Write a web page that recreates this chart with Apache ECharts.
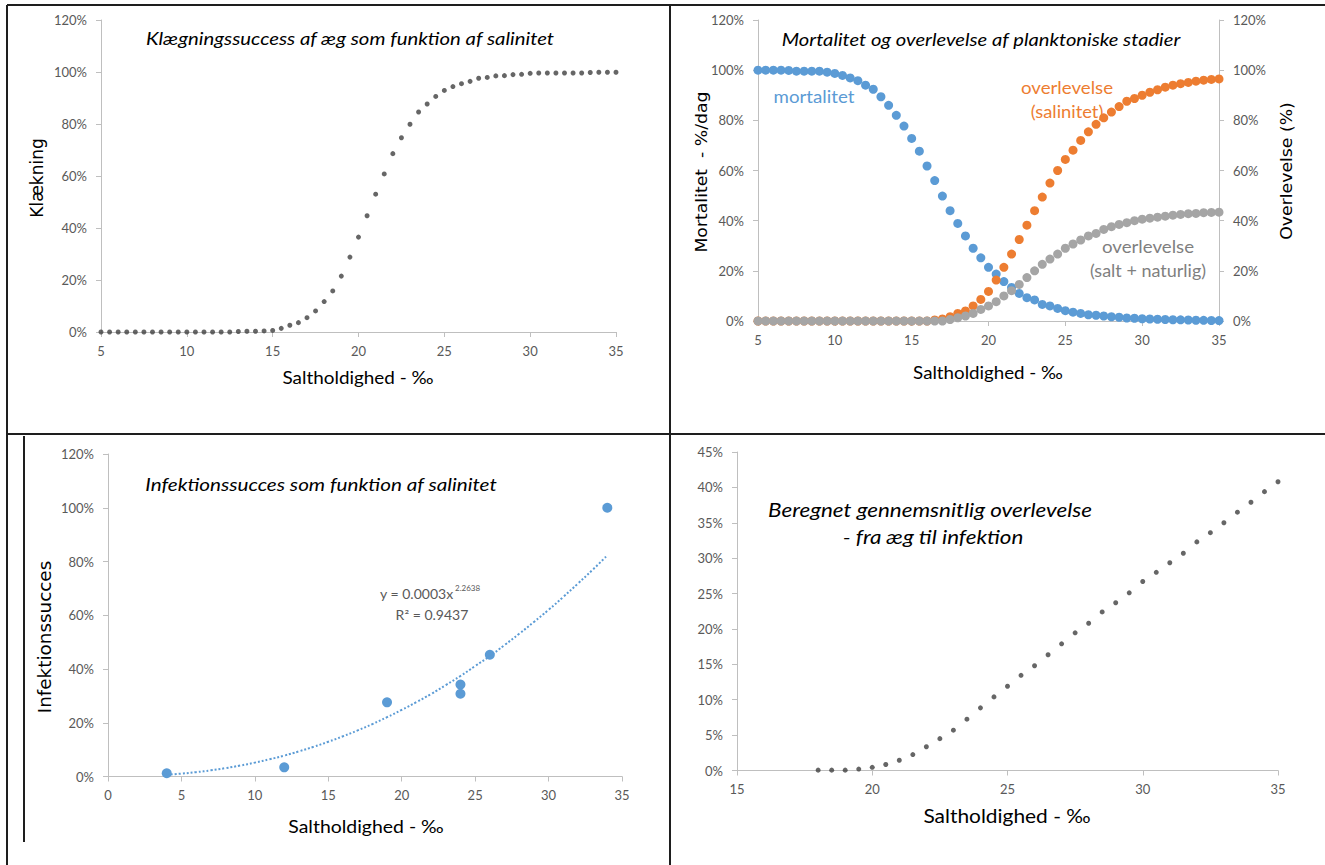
<!DOCTYPE html>
<html>
<head>
<meta charset="utf-8">
<script src="https://cdn.jsdelivr.net/npm/echarts@6/dist/echarts.min.js"></script>
<style>
html,body{margin:0;padding:0;background:#fff;}
#chart{width:1325px;height:865px;}
</style>
</head>
<body>
<div id="chart"></div>
<script>
// ---------- DATA ----------
// Panel 1: hatching success vs salinity (5..35 step 0.5)
const salinity = [5,5.5,6,6.5,7,7.5,8,8.5,9,9.5,10,10.5,11,11.5,12,12.5,13,13.5,14,14.5,15,15.5,16,16.5,17,17.5,18,18.5,19,19.5,20,20.5,21,21.5,22,22.5,23,23.5,24,24.5,25,25.5,26,26.5,27,27.5,28,28.5,29,29.5,30,30.5,31,31.5,32,32.5,33,33.5,34,34.5,35];
const hatching = [0,0,0,0,0,0,0,0,0,0,0,0,0,0,0,0,0.2,0.3,0.3,0.4,0.6,1.4,2.6,3.6,5.5,8.1,11.7,15.8,21.5,28.8,36.5,44.7,53,60.8,68.6,74.7,79.9,84.6,87.7,90.6,92.9,94.4,95.5,96.4,97.6,97.9,98.5,98.6,99.0,99.1,99.5,99.6,99.6,99.6,99.6,99.6,99.6,99.8,99.9,99.9,99.9];

// Panel 2: mortality and survival of planktonic stages
const mortality = [100,100,100,100,99.9,99.6,99.6,99.6,99.6,99.2,98.7,97.9,96.9,95.8,94,92.4,89.4,86,82,77.7,72.8,67.7,61.8,56,49.8,44,38.9,33.9,29,25.2,21.4,18.7,15.7,13.4,11,9.3,8.4,6.6,6,5,4.1,3.5,3,2.5,2.3,2,1.7,1.5,1.2,1.1,0.9,0.8,0.7,0.6,0.5,0.45,0.4,0.3,0.25,0.2,0.15];
const survivalSalinity = [0,0,0,0,0,0,0,0,0,0,0,0,0,0,0,0,0,0,0,0,0,0,0,0.4,0.8,1.7,3,4,6,8.6,11.8,16.3,21.4,26.7,32.5,38.2,44,49.4,55,60,64.4,68.1,72,75.4,78.4,81,83.3,85.5,87.6,88.7,90,91.2,92.2,93.2,94,94.6,95.1,95.6,96,96.3,96.5];
const survivalTotal = [0,0,0,0,0,0,0,0,0,0,0,0,0,0,0,0,0,0,0,0,0,0,0,0,0,0.6,1.3,2,3,4.6,6,7.7,10,12.1,14.6,17.3,20,22.6,24.7,26.7,29,30.7,32.3,33.9,34.9,36.5,37.6,38.5,39.2,40,40.6,41,41.4,41.8,42.2,42.5,42.8,42.9,43.2,43.3,43.4];

// Panel 3: infection success
const infSalinity = [4,12,19,24,24,26,34];
const infSuccess = [1.2,3.4,27.6,34.2,30.8,45.3,100];
const trendSalinity = [4,5,6,7,8,9,10,11,12,13,14,15,16,17,18,19,20,21,22,23,24,25,26,27,28,29,30,31,32,33,34];
const trendSuccess = [0.65,1.07,1.62,2.3,3.11,4.06,5.16,6.4,7.78,9.35,11.05,12.93,14.96,17.15,19.5,22.07,24.8,27.67,30.7,34.0,37.4,41.1,44.8,48.9,53.1,57.5,62.0,66.8,71.8,76.9,82.3];

// Panel 4: calculated mean survival egg -> infection
const survSalinity = [18,18.5,19,19.5,20,20.5,21,21.5,22,22.5,23,23.5,24,24.5,25,25.5,26,26.5,27,27.5,28,28.5,29,29.5,30,30.5,31,31.5,32,32.5,33,33.5,34,34.5,35];
const survMean = [0.05,0.05,0.05,0.2,0.45,0.85,1.45,2.25,3.35,4.5,5.7,7.25,8.85,10.4,11.9,13.45,14.8,16.35,17.9,19.45,20.8,22.4,23.7,25.1,26.7,28.0,29.35,30.7,32.3,33.6,35.0,36.5,37.9,39.4,40.8];

// Texts
const titles = {
  p1: 'Klægningssuccess af æg som funktion af salinitet',
  p2: 'Mortalitet og overlevelse af planktoniske stadier',
  p3: 'Infektionssucces som funktion af salinitet',
  p4a: 'Beregnet gennemsnitlig overlevelse',
  p4b: '- fra æg til infektion'
};
const xTitle = 'Saltholdighed - ‰';

// ---------- CHART ----------
const zip = (xs, ys) => xs.map((x, i) => [x, ys[i]]);
const FONT = 'Lato, "Open Sans", sans-serif';
const VFONT = 'DejaVu Sans, sans-serif';
const AX = '#BFBFBF';
const LBL = '#595959';

function xAxis(grid, min, max, interval) {
  return {
    type: 'value', gridIndex: grid, min: min, max: max, interval: interval,
    axisLine: {show: true, onZero: false, lineStyle: {color: AX, width: 1}},
    axisTick: {show: true, length: 5, lineStyle: {color: AX}},
    splitLine: {show: false},
    axisLabel: {color: LBL, fontFamily: FONT, fontSize: 13, margin: 12}
  };
}
function yAxis(grid, max, interval, position) {
  return {
    type: 'value', gridIndex: grid, min: 0, max: max, interval: interval,
    position: position || 'left',
    axisLine: {show: true, onZero: false, lineStyle: {color: AX, width: 1}},
    axisTick: {show: true, length: 5, lineStyle: {color: AX}},
    splitLine: {show: false},
    axisLabel: {color: LBL, fontFamily: FONT, fontSize: 13, margin: 14, formatter: '{value}%'}
  };
}

function txt(x, y, text, opts) {
  opts = opts || {};
  return {
    type: 'text', x: x, y: y, rotation: opts.rotation || 0, z: 100,
    scaleX: opts.sx || 1, scaleY: 1,
    style: {
      text: text, x: 0, y: 0,
      fill: opts.color || '#000',
      fontFamily: opts.family || FONT,
      fontSize: opts.size || 17,
      fontStyle: opts.italic ? 'italic' : 'normal',
      align: opts.align || 'center', verticalAlign: 'middle',
      textAlign: opts.align || 'center', textVerticalAlign: 'middle'
    }
  };
}
function line(x1, y1, x2, y2) {
  return {type: 'line', z: 100, shape: {x1: x1, y1: y1, x2: x2, y2: y2},
    style: {stroke: '#1e1e1e', lineWidth: 2}};
}

const chart = echarts.init(document.getElementById('chart'), null, {renderer: 'svg'});
chart.setOption({
  animation: false,
  backgroundColor: '#ffffff',
  grid: [
    {left: 101, top: 20, width: 515, height: 312},
    {left: 758, top: 20, width: 461, height: 301},
    {left: 108, top: 454, width: 514, height: 322.5},
    {left: 737, top: 452, width: 541, height: 318.5}
  ],
  xAxis: [
    xAxis(0, 5, 35, 5),
    xAxis(1, 5, 35, 5),
    xAxis(2, 0, 35, 5),
    xAxis(3, 15, 35, 5)
  ],
  yAxis: [
    yAxis(0, 120, 20),
    yAxis(1, 120, 20),
    yAxis(1, 120, 20, 'right'),
    yAxis(2, 120, 20),
    yAxis(3, 45, 5)
  ],
  series: [
    {type: 'scatter', name: 'Klækning', xAxisIndex: 0, yAxisIndex: 0,
     data: zip(salinity, hatching), symbolSize: 5, itemStyle: {color: '#404040'}},
    {type: 'scatter', name: 'mortalitet', xAxisIndex: 1, yAxisIndex: 1,
     data: zip(salinity, mortality), symbolSize: 9, itemStyle: {color: '#5B9BD5', opacity: 1}},
    {type: 'scatter', name: 'overlevelse (salinitet)', xAxisIndex: 1, yAxisIndex: 2,
     data: zip(salinity, survivalSalinity), symbolSize: 9, itemStyle: {color: '#ED7D31', opacity: 1}},
    {type: 'scatter', name: 'overlevelse (salt + naturlig)', xAxisIndex: 1, yAxisIndex: 2,
     data: zip(salinity, survivalTotal), symbolSize: 9, itemStyle: {color: '#A5A5A5', opacity: 1}},
    {type: 'line', name: 'trend', xAxisIndex: 2, yAxisIndex: 3,
     data: zip(trendSalinity, trendSuccess), smooth: true, showSymbol: false, symbol: 'none',
     lineStyle: {color: '#5B9BD5', width: 2, type: [2, 2]}},
    {type: 'scatter', name: 'Infektionssucces', xAxisIndex: 2, yAxisIndex: 3,
     data: zip(infSalinity, infSuccess), symbolSize: 10, itemStyle: {color: '#5B9BD5', opacity: 1}},
    {type: 'scatter', name: 'Overlevelse', xAxisIndex: 3, yAxisIndex: 4,
     data: zip(survSalinity, survMean), symbolSize: 5, itemStyle: {color: '#404040'}}
  ],
  graphic: [
    // frame lines
    line(7, 5, 1325, 5),
    line(7, 5, 7, 865),
    line(7, 434, 1325, 434),
    line(670, 5, 670, 865),
    line(24, 436, 24, 842),
    // panel 1
    txt(350, 38, titles.p1, {italic: true, size: 18, sx: 1.13}),
    txt(358, 377, xTitle, {size: 18, sx: 1.05}),
    txt(37, 178, 'Klækning', {size: 17, rotation: Math.PI / 2, family: VFONT}),
    // panel 2
    txt(981, 39, titles.p2, {italic: true, size: 18, sx: 1.12}),
    txt(988, 372, xTitle, {size: 18, sx: 1.04}),
    txt(702, 172, 'Mortalitet  - %/dag', {size: 16, rotation: Math.PI / 2, family: VFONT, sx: 1.08}),
    txt(1287, 171, 'Overlevelse (%)', {size: 16, rotation: Math.PI / 2, family: VFONT, sx: 1.08}),
    txt(814, 96, 'mortalitet', {size: 17, color: '#5B9BD5', sx: 1.1}),
    txt(1067, 87, 'overlevelse', {size: 17, color: '#ED7D31', sx: 1.1}),
    txt(1067, 112, '(salinitet)', {size: 17, color: '#ED7D31', sx: 1.08}),
    txt(1148, 246, 'overlevelse', {size: 17, color: '#7F7F7F', sx: 1.1}),
    txt(1148, 271, '(salt + naturlig)', {size: 17, color: '#7F7F7F', sx: 1.06}),
    // panel 3
    txt(321, 484, titles.p3, {italic: true, size: 18, sx: 1.15}),
    txt(366, 826, xTitle, {size: 18, sx: 1.08}),
    txt(45, 637, 'Infektionssucces', {size: 17, rotation: Math.PI / 2, family: VFONT, sx: 1.08}),
    txt(380, 594, 'y = 0.0003x', {size: 13, color: LBL, align: 'left', sx: 1.08}),
    txt(455, 588, '2.2638', {size: 8, color: LBL, align: 'left'}),
    txt(432, 615, 'R² = 0.9437', {size: 13, color: LBL, sx: 1.08}),
    // panel 4
    txt(930, 509, titles.p4a, {italic: true, size: 19, sx: 1.18}),
    txt(933, 536, titles.p4b, {italic: true, size: 19, sx: 1.18}),
    txt(1007, 815, xTitle, {size: 19, sx: 1.1})
  ]
});
</script>
</body>
</html>
